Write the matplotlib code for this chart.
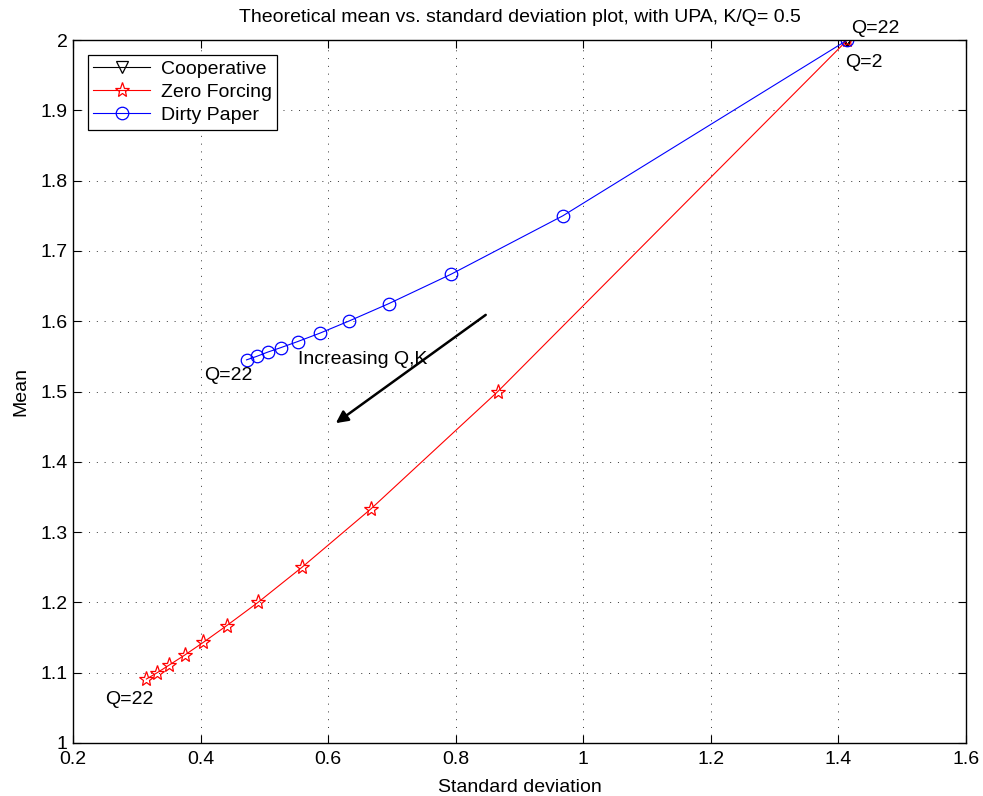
import numpy as np
import matplotlib.pyplot as plt
from matplotlib.ticker import FuncFormatter

plt.rcParams["font.family"] = ["Liberation Sans", "DejaVu Sans"]
plt.rcParams["font.size"] = 14

# Q = 2, 4, ..., 22 (K = Q/2)
q_values = [2, 4, 6, 8, 10, 12, 14, 16, 18, 20, 22]

coop_std = [1.414] * 11
coop_mean = [2.0] * 11

zf_std = [1.414, 0.866, 0.667, 0.559, 0.490, 0.441, 0.404, 0.375, 0.351, 0.332, 0.315]
zf_mean = [2.0, 1.5, 1.333, 1.25, 1.2, 1.167, 1.143, 1.125, 1.111, 1.1, 1.091]

dp_std = [1.414, 0.968, 0.793, 0.695, 0.632, 0.587, 0.552, 0.526, 0.505, 0.488, 0.472]
dp_mean = [2.0, 1.75, 1.667, 1.625, 1.6, 1.583, 1.571, 1.5625, 1.556, 1.55, 1.545]

fig = plt.figure(figsize=(9.83, 7.96), dpi=100)
ax = fig.add_axes([0.0743, 0.0666, 0.9084, 0.8831])

ax.plot(coop_std, coop_mean, color="black", lw=0.8, marker="v", ms=8,
        mfc="none", mec="black", mew=0.9, label="Cooperative")
ax.plot(zf_std, zf_mean, color="red", lw=0.8, marker="*", ms=11,
        mfc="none", mec="red", mew=0.9, label="Zero Forcing")
ax.plot(dp_std, dp_mean, color="blue", lw=0.8, marker="o", ms=9,
        mfc="none", mec="blue", mew=0.9, label="Dirty Paper")

ax.set_xlim(0.2, 1.6)
ax.set_ylim(1.0, 2.0)
ax.set_xticks(np.arange(0.2, 1.61, 0.2))
ax.set_yticks(np.arange(1.0, 2.01, 0.1))
ax.xaxis.set_major_formatter(FuncFormatter(lambda v, p: f"{round(v, 1):g}"))
ax.yaxis.set_major_formatter(FuncFormatter(lambda v, p: f"{round(v, 1):g}"))
ax.tick_params(direction="in", top=True, right=True, length=6, width=0.8,
               labelsize=14)
ax.tick_params(axis="x", pad=6)
ax.tick_params(axis="y", pad=4)
for s in ax.spines.values():
    s.set_linewidth(1.0)
ax.grid(True, linestyle=(0, (1, 7)), color="black", linewidth=0.7, alpha=0.8)

ax.set_title("Theoretical mean vs. standard deviation plot, with UPA, K/Q= 0.5",
             fontsize=14, pad=13)
ax.set_xlabel("Standard deviation", fontsize=14, labelpad=8)
ax.set_ylabel("Mean", fontsize=14, labelpad=8)

# annotations
ax.text(1.42, 2.017, "Q=22", fontsize=14, va="center", ha="left")
ax.text(1.41, 1.968, "Q=2", fontsize=14, va="center", ha="left")
ax.text(0.405, 1.523, "Q=22", fontsize=14, va="center", ha="left")
ax.text(0.25, 1.062, "Q=22", fontsize=14, va="center", ha="left")
ax.text(0.553, 1.546, "Increasing Q,K", fontsize=14, va="center", ha="left")
ax.annotate("", xy=(0.612, 1.455), xytext=(0.847, 1.609),
            arrowprops=dict(arrowstyle="-|>", color="black", lw=1.8,
                            mutation_scale=18, shrinkA=0, shrinkB=0))

leg = ax.legend(loc="upper left", fontsize=14, handlelength=2.9,
                borderpad=0.3, labelspacing=0.28, handletextpad=0.55,
                borderaxespad=0.75, fancybox=False, framealpha=1)
leg.get_frame().set_edgecolor("black")
leg.get_frame().set_linewidth(0.9)

fig.savefig("out.png", dpi=100)
